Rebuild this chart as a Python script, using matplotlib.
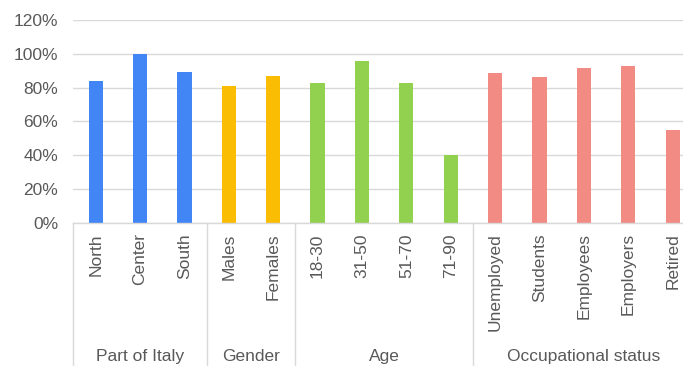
import matplotlib
matplotlib.use("Agg")
import matplotlib.pyplot as plt
from matplotlib.ticker import PercentFormatter

plt.rcParams['font.family'] = ['Liberation Sans', 'DejaVu Sans']

# Share of respondents per subgroup
categories = ["North", "Center", "South",
              "Males", "Females",
              "18-30", "31-50", "51-70", "71-90",
              "Unemployed", "Students", "Employees", "Employers", "Retired"]
values = [84, 100, 89.5,
          81, 87,
          82.5, 95.5, 82.5, 40,
          88.5, 86, 91.5, 93, 55]
groups = ["Part of Italy", "Gender", "Age", "Occupational status"]
group_sizes = [3, 2, 4, 5]
group_colors = ["#4285F4", "#FBBC04", "#92D050", "#F28B84"]

TEXT = "#595959"
GRID = "#D9D9D9"
FS = 12.5

fig = plt.figure(figsize=(6.83, 3.66), dpi=100)
ax = fig.add_axes([0.1076, 0.3915, 0.9097, 0.5538])

colors = []
for c, n in zip(group_colors, group_sizes):
    colors += [c] * n

x = list(range(len(categories)))
ax.bar(x, values, width=0.32, color=colors, zorder=3)

ax.set_xlim(-0.5, len(categories) - 0.5)
ax.set_ylim(0, 120)
ax.set_yticks(range(0, 121, 20))
ax.yaxis.set_major_formatter(PercentFormatter(decimals=0))
ax.tick_params(axis='y', length=0, pad=11, labelsize=FS, labelcolor=TEXT)
ax.set_xticks([])
ax.grid(axis='y', color=GRID, linewidth=1.0, zorder=0)
for s in ("left", "right", "top"):
    ax.spines[s].set_visible(False)
ax.spines["bottom"].set_color(GRID)
ax.spines["bottom"].set_linewidth(1.0)
ax.spines["bottom"].set_zorder(4)

trans = ax.get_xaxis_transform()

# Category labels, rotated
for xi, lab in zip(x, categories):
    ax.text(xi, -0.052, lab, rotation=90, ha='center', va='top',
            fontsize=FS, color=TEXT, transform=trans, clip_on=False)

# Group labels and separators
start = 0
bounds = [-0.5]
for g, n in zip(groups, group_sizes):
    center = start + (n - 1) / 2
    ax.text(center, -0.662, g, ha='center', va='center',
            fontsize=FS, color=TEXT, transform=trans, clip_on=False)
    start += n
    bounds.append(start - 0.5)
for b in bounds:
    ax.plot([b, b], [0, -0.71], color=GRID, linewidth=1.0,
            transform=trans, clip_on=False)

fig.savefig("out.png", dpi=100)
